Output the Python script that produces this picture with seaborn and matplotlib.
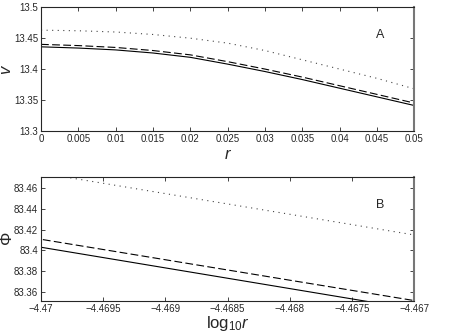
import numpy as np
import pandas as pd
import seaborn as sns
import matplotlib.pyplot as plt
from matplotlib.ticker import FuncFormatter

# Panel A: v against r
r_a = [0.0, 0.005, 0.01, 0.015, 0.02, 0.025, 0.03, 0.035, 0.04, 0.045, 0.05]
v_solid = [13.436, 13.434, 13.431, 13.426, 13.419, 13.408, 13.396, 13.383, 13.369, 13.355, 13.341]
v_dashed = [13.440, 13.438, 13.435, 13.430, 13.423, 13.412, 13.400, 13.387, 13.373, 13.359, 13.345]
v_dotted = [13.463, 13.462, 13.460, 13.456, 13.450, 13.442, 13.430, 13.415, 13.400, 13.385, 13.368]

# Panel B: Phi against log10 r
logr_b = [-4.4705, -4.47, -4.469, -4.468, -4.467]
phi_solid = [83.4128, 83.4029, 83.3829, 83.3629, 83.3429]
phi_dashed = [83.4205, 83.4106, 83.3908, 83.3710, 83.3513]
phi_dotted = [83.4848, 83.4748, 83.4548, 83.4348, 83.4148]

sns.set_style("ticks")
plt.rcParams['font.family'] = ['Liberation Sans', 'DejaVu Sans']
plt.rcParams['mathtext.fontset'] = 'custom'
plt.rcParams['mathtext.rm'] = 'Liberation Sans'
plt.rcParams['mathtext.it'] = 'Liberation Sans:italic'
plt.rcParams['xtick.direction'] = 'in'
plt.rcParams['ytick.direction'] = 'in'

fig = plt.figure(figsize=(4.63, 3.32), dpi=100)
ax1 = fig.add_axes([0.0886, 0.606, 0.806, 0.372])
ax2 = fig.add_axes([0.0886, 0.0925, 0.806, 0.3735])

dfa = pd.DataFrame({'r': r_a, 'solid': v_solid, 'dashed': v_dashed, 'dotted': v_dotted})
for col in ['solid', 'dashed', 'dotted']:
    sns.lineplot(data=dfa, x='r', y=col, ax=ax1, color='black', lw=0.8)

dfb = pd.DataFrame({'logr': logr_b, 'solid': phi_solid, 'dashed': phi_dashed, 'dotted': phi_dotted})
for col in ['solid', 'dashed', 'dotted']:
    sns.lineplot(data=dfb, x='logr', y=col, ax=ax2, color='black', lw=0.8)

for ax in (ax1, ax2):
    ax.lines[1].set_dashes((7, 3))
    ax.lines[2].set_dashes((1, 4))
    ax.lines[2].set_color('#444444')

fmt = FuncFormatter(lambda v, p: ('%g' % v).replace('-', '\u2212'))

ax1.set_xlim(0, 0.05)
ax1.set_ylim(13.3, 13.5)
ax1.set_xticks(np.arange(0, 0.0501, 0.005))
ax1.set_yticks([13.3, 13.35, 13.4, 13.45, 13.5])
ax1.set_xlabel('$r$', fontsize=12)
ax1.set_ylabel('$v$', fontsize=12)
ax1.xaxis.set_label_coords(0.5, -0.13)
ax1.yaxis.set_label_coords(-0.072, 0.5)
ax1.text(0.0454, 13.455, 'A', fontsize=9, ha='center', va='center')

ax2.set_xlim(-4.47, -4.467)
ax2.set_ylim(83.3506, 83.4706)
ax2.set_xticks([-4.47, -4.4695, -4.469, -4.4685, -4.468, -4.4675, -4.467])
ax2.set_yticks([83.36, 83.38, 83.4, 83.42, 83.44, 83.46])
ax2.set_xlabel('$\\mathrm{log}_{10}r$', fontsize=12)
ax2.set_ylabel('$\\Phi$', fontsize=12)
ax2.xaxis.set_label_coords(0.5, -0.1)
ax2.yaxis.set_label_coords(-0.07, 0.5)
ax2.text(-4.46727, 83.444, 'B', fontsize=9, ha='center', va='center')

for ax in (ax1, ax2):
    ax.xaxis.set_major_formatter(fmt)
    ax.yaxis.set_major_formatter(fmt)
    ax.tick_params(labelsize=7, length=3, width=0.6, top=True, right=True, pad=2)
    for s in ax.spines.values():
        s.set_linewidth(0.8)
    ax.spines['right'].set_linewidth(1.5)
    ax.spines['right'].set_color('#777777')

plt.savefig('out.png', dpi=100)
